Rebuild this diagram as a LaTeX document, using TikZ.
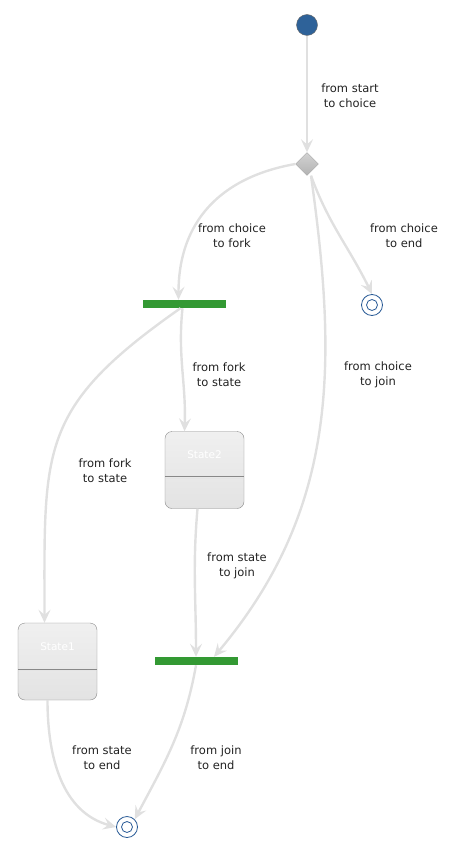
\documentclass[tikz,border=0pt]{standalone}
\usepackage{fontspec}
\setmainfont{DejaVu Sans}
\usetikzlibrary{arrows.meta,positioning,shapes.geometric,calc}
\definecolor{edgegray}{RGB}{224,224,224}
\definecolor{startblue}{RGB}{46,98,153}
\definecolor{endblue}{RGB}{40,90,150}
\definecolor{forkgreen}{RGB}{51,153,51}
\definecolor{stateline}{RGB}{136,136,136}
\definecolor{lbltext}{RGB}{34,34,34}

\begin{document}
\begin{tikzpicture}[
    x=1pt, y=1pt,
    font=\fontsize{11.5}{15}\selectfont,
    edge/.style={-{Stealth[length=13pt, width=12pt, inset=5pt]}, edgegray, line width=2.4pt},
    startdot/.style={circle, fill=startblue, draw=gray!80!black, minimum size=21pt, inner sep=0pt},
    enddot/.style={circle, draw=endblue, fill=white, thick, minimum size=21pt, inner sep=0pt},
    endcore/.style={circle, draw=endblue, thick, minimum size=11pt, inner sep=0pt},
    choicedia/.style={diamond, draw=gray!70, top color=gray!35, bottom color=gray!60,
                      minimum size=23pt, inner sep=0pt},
    barnode/.style={rectangle, fill=forkgreen, minimum width=83pt, minimum height=8pt, inner sep=0pt},
    statebox/.style={rectangle, rounded corners=7pt, draw=stateline, top color=gray!12,
                     bottom color=gray!22, minimum width=79pt, minimum height=77pt, inner sep=0pt},
    statetitle/.style={text=white, font=\fontsize{10.5}{12}\selectfont},
    lbl/.style={text=lbltext, align=center},
  ]
    \useasboundingbox (0,0) rectangle (463,-848);

    % start and choice
    \node[startdot] (start) at (307,-25) {};
    \node[choicedia] (choice) at (307,-164) {};

    % fork and join bars
    \node[barnode] (fork) at (184.5,-304) {};
    \node[barnode] (join) at (196,-661) {};

    % end points
    \node[enddot] (endA) at (372,-305) {};
    \node[endcore] at (endA) {};
    \node[enddot] (endB) at (127,-827) {};
    \node[endcore] at (endB) {};

    % states
    \node[statebox] (state2) at (204.5,-470) {};
    \node[statetitle] (state2t) at ($(state2.north)+(0,-23)$) {State2};
    \draw[stateline] ($(state2.north west)+(0,-45)$) coordinate (s2l)
      -- ($(state2.north east)+(0,-45)$) coordinate (s2r);
    \draw[white!80!gray, line width=1pt] ($(s2l)+(1,-2)$) -- ($(s2r)+(-1,-2)$);

    \node[statebox] (state1) at (57.5,-661.5) {};
    \node[statetitle] (state1t) at ($(state1.north)+(0,-24)$) {State1};
    \draw[stateline] ($(state1.north west)+(0,-46)$) coordinate (s1l)
      -- ($(state1.north east)+(0,-46)$) coordinate (s1r);
    \draw[white!80!gray, line width=1pt] ($(s1l)+(1,-2)$) -- ($(s1r)+(-1,-2)$);

    % connectors
    \draw[edge] (start) -- (choice.north);
    \draw[edge] (choice.west) to[out=190, in=90, looseness=1.1] ([xshift=-6pt]fork.north);
    \draw[edge] ([xshift=4pt]choice.south) to[out=-70, in=116] (endA.north);
    \draw[edge] ([xshift=4pt]choice.south) to[out=-82, in=50, looseness=1.0] ([xshift=18pt]join.north);
    \draw[edge] ([xshift=-2pt]fork.south) to[out=-96, in=88] ([xshift=-20pt]state2.north);
    \draw[edge] ([xshift=-4pt]fork.south) to[out=-145, in=90, looseness=1.3] ([xshift=-13pt]state1.north);
    \draw[edge] ([xshift=-7pt]state2.south) to[out=-95, in=90] (join.north);
    \draw[edge] ([xshift=-10pt]state1.south) to[out=-90, in=165, looseness=1.0] (endB.west);
    \draw[edge] (join.south) to[out=-100, in=62] (endB.north east);

    % labels
    \node[lbl] (l1) at (350,-96) {from start\\to choice};
    \node[lbl] (l2) at (232,-236) {from choice\\to fork};
    \node[lbl] (l3) at (404,-236) {from choice\\to end};
    \node[lbl] (l4) at (378,-375) {from choice\\to join};
    \node[lbl] (l5) at (219,-375) {from fork\\to state};
    \node[lbl] (l6) at (105,-471) {from fork\\to state};
    \node[lbl] (l7) at (237,-566) {from state\\to join};
    \node[lbl] (l8) at (102,-758) {from state\\to end};
    \node[lbl] (l9) at (216,-758) {from join\\to end};
  \end{tikzpicture}
\end{document}
